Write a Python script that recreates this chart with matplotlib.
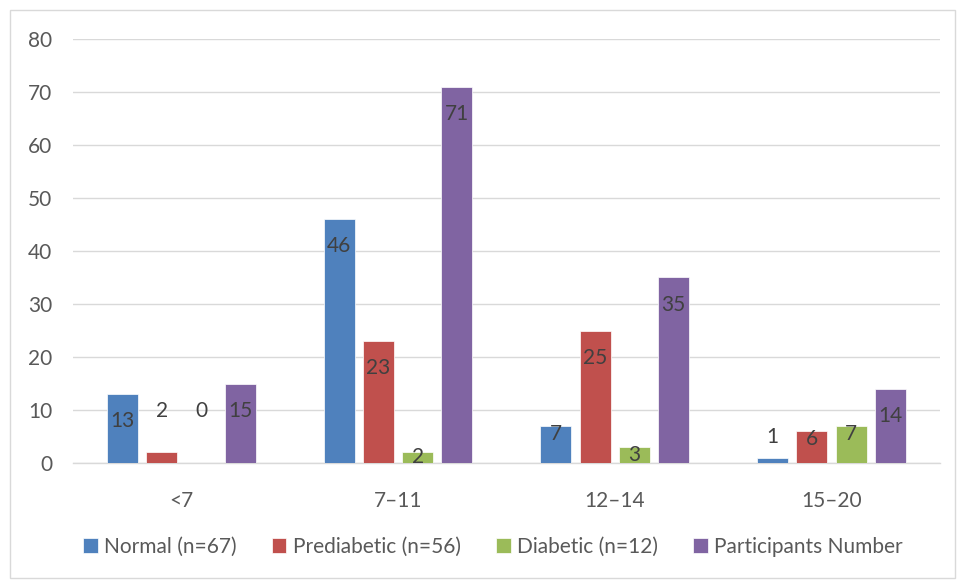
import numpy as np
import matplotlib.pyplot as plt
from matplotlib.patches import Rectangle

categories = ['<7', '7–11', '12–14', '15–20']
series_names = ['Normal (n=67)', 'Prediabetic (n=56)', 'Diabetic (n=12)', 'Participants Number']
normal = [13, 46, 7, 1]
prediabetic = [2, 23, 25, 6]
diabetic = [0, 2, 3, 7]
participants = [15, 71, 35, 14]

colors = ['#4F81BD', '#C0504D', '#9BBB59', '#8064A2']
text_color = '#404040'
tick_color = '#595959'
grid_color = '#D9D9D9'

plt.rcParams['font.family'] = ['Lato', 'DejaVu Sans']

fig = plt.figure(figsize=(9.57, 5.8), dpi=100)
ax = fig.add_axes([0.0763, 0.2017, 0.9057, 0.7311])

# outer chart border
fig.patches.append(Rectangle((10 / 957, 2 / 580), 945 / 957, 568 / 580,
                             transform=fig.transFigure, fill=False,
                             edgecolor='#D9D9D9', linewidth=1))

x = np.arange(len(categories))
step = 0.181
width = 0.143
all_series = [normal, prediabetic, diabetic, participants]

# labels that were moved by hand in the original
moved_labels = {(0, 1): 9.8, (0, 2): 9.8, (3, 0): 4.9}

for i, (name, vals) in enumerate(zip(series_names, all_series)):
    pos = x + (i - 1.5) * step
    ax.bar(pos, vals, width, color=colors[i], label=name, zorder=3,
           edgecolor='white', linewidth=0.5)
    for j, v in enumerate(vals):
        if (j, i) in moved_labels:
            y = moved_labels[(j, i)]
        elif v >= 10:
            y = v - 5.1
        else:
            y = v - 1.5 if v > 2 else v - 0.9
        ax.text(pos[j], y, str(v), ha='center', va='center',
                fontsize=15, color=text_color, zorder=4)

ax.set_xlim(-0.5, 3.5)
ax.set_ylim(0, 80)
ax.set_yticks(range(0, 81, 10))
ax.set_xticks(x)
ax.set_xticklabels(categories)
ax.yaxis.grid(True, color=grid_color, linewidth=1, zorder=0)
ax.tick_params(axis='both', length=0, labelsize=15, colors=tick_color)
ax.tick_params(axis='y', pad=15)
ax.tick_params(axis='x', pad=20)
for side in ['left', 'right', 'top']:
    ax.spines[side].set_visible(False)
ax.spines['bottom'].set_color(grid_color)
ax.spines['bottom'].set_linewidth(1)

fig.legend(loc='center', bbox_to_anchor=(0.515, 0.057), ncol=4, frameon=False,
           fontsize=15, handlelength=0.7, handleheight=0.7, handletextpad=0.3,
           columnspacing=1.7, labelcolor=tick_color)

fig.savefig('out.png', dpi=100)
